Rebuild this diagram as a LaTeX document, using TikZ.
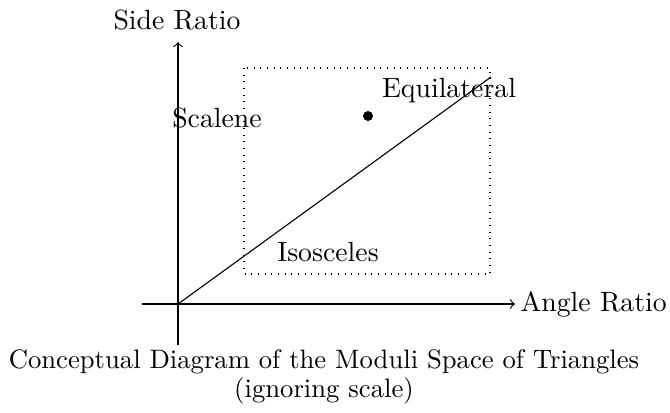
\documentclass[tikz,border=0pt]{standalone}
\begin{document}
\begin{tikzpicture}[x=0.36pt,y=-0.36pt,
  lbl/.style={inner sep=0pt,font=\normalsize},
  axis/.style={->,line width=0.4pt}]
\useasboundingbox (0,0) rectangle (670,412);
\coordinate (O) at (178,304);
\coordinate (xl) at (142,304);
\coordinate (xr) at (515,304);
\coordinate (yb) at (178,345);
\coordinate (yt) at (178,42);
\coordinate (D) at (491,77);
\node[lbl,anchor=base] (side) at (177,29) {Side Ratio};
\node[lbl,anchor=west] (angle) at (520,304) {Angle Ratio};
\draw[axis] (xl) -- (xr);
\draw[axis] (yb) -- (yt);
\draw (O) -- (D);
\draw[dotted] (244,68) rectangle (490,274);
\fill (368,116) circle (5);
\node[lbl,anchor=base] (equi) at (449,97) {Equilateral};
\node[lbl,anchor=base] (scal) at (217,127) {Scalene};
\node[lbl,anchor=base] (isos) at (328,261) {Isosceles};
\node[lbl,align=center,anchor=north,scale=0.96] (cap) at (324,349) {Conceptual Diagram of the Moduli Space of Triangles\\[-1pt](ignoring scale)};
\end{tikzpicture}
\end{document}
